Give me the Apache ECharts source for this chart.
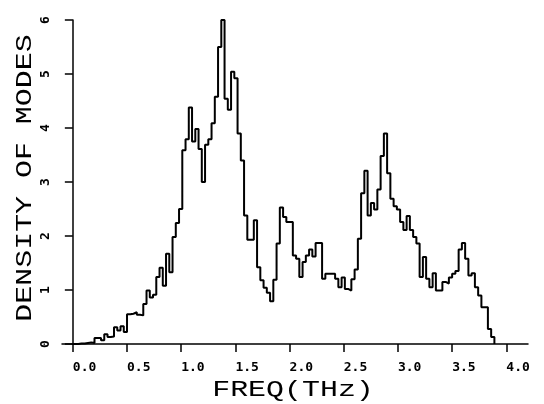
<!DOCTYPE html>
<html>
<head>
<meta charset="utf-8">
<script src="https://cdn.jsdelivr.net/npm/echarts@6/dist/echarts.min.js"></script>
<style>
  html, body { margin: 0; padding: 0; background: #fff; }
  #chart { width: 544px; height: 404px; }
</style>
</head>
<body>
<div id="chart"></div>
<script>
// histogram bins: left edge of first bin and bin width (THz)
const binStart = 0.02
const binWidth = 0.03

// density of modes per bin
const density = [
  0.00, 0.01, 0.01, 0.02, 0.03, 0.02, 0.11, 0.11, 0.07, 0.18,
  0.13, 0.14, 0.31, 0.25, 0.33, 0.22, 0.55, 0.56, 0.59, 0.54,
  0.53, 0.74, 0.99, 0.86, 0.91, 1.24, 1.41, 1.08, 1.67, 1.33,
  1.98, 2.24, 2.50, 3.59, 3.79, 4.38, 3.75, 3.98, 3.61, 3.00,
  3.69, 3.79, 4.09, 4.58, 5.50, 6.00, 4.54, 4.34, 5.04, 4.92,
  3.90, 3.40, 2.38, 1.93, 1.93, 2.29, 1.42, 1.18, 1.04, 0.95,
  0.79, 1.19, 1.86, 2.53, 2.35, 2.26, 2.26, 1.64, 1.58, 1.24,
  1.52, 1.64, 1.75, 1.62, 1.87, 1.87, 1.21, 1.30, 1.30, 1.30,
  1.21, 1.05, 1.23, 1.02, 0.99, 1.20, 1.38, 1.95, 2.79, 3.21,
  2.38, 2.61, 2.49, 2.86, 3.48, 3.90, 3.16, 2.69, 2.55, 2.49,
  2.26, 2.11, 2.37, 2.11, 1.98, 1.86, 1.24, 1.61, 1.21, 1.05,
  1.31, 0.99, 0.99, 1.15, 1.12, 1.23, 1.30, 1.35, 1.75, 1.87,
  1.58, 1.27, 1.31, 1.05, 0.90, 0.68, 0.68, 0.28, 0.13
]

const xTicks = [0, 0.5, 1.0, 1.5, 2.0, 2.5, 3.0, 3.5, 4.0]

// step outline of the histogram
const steps = [[0, 0], [binStart, 0]]
density.forEach((v, i) => {
  steps.push([+(binStart + i * binWidth).toFixed(4), v])
})
const binEnd = +(binStart + density.length * binWidth).toFixed(4)
steps.push([binEnd, density[density.length - 1]], [binEnd, 0])

const font = "'DejaVu Sans Mono', monospace"
const titleFont = "22px 'Liberation Mono', 'DejaVu Sans Mono', monospace"

const chart = echarts.init(document.getElementById('chart'))
chart.setOption({
  backgroundColor: '#fff',
  animation: false,
  grid: {
    left: 62,
    right: 16,
    top: 20,
    bottom: 60,
    outerBoundsMode: 'none'
  },
  xAxis: {
    type: 'value',
    min: -0.1,
    max: 4.2,
    splitLine: { show: false },
    axisLine: { lineStyle: { color: '#000', width: 1.5 } },
    axisTick: {
      customValues: xTicks,
      length: 8,
      lineStyle: { color: '#000', width: 1.5 }
    },
    axisLabel: {
      customValues: xTicks,
      formatter: v => v.toFixed(1),
      align: 'left',
      margin: 17,
      color: '#000',
      fontFamily: font,
      fontWeight: 'bold',
      fontSize: 13
    }
  },
  yAxis: {
    type: 'value',
    min: 0,
    max: 6,
    interval: 1,
    splitLine: { show: false },
    axisLine: { onZero: true, lineStyle: { color: '#000', width: 1.5 } },
    axisTick: { length: 8, lineStyle: { color: '#000', width: 1.5 } },
    axisLabel: {
      rotate: 90,
      margin: 10,
      color: '#000',
      fontFamily: font,
      fontWeight: 'bold',
      fontSize: 13
    }
  },
  graphic: [
    {
      type: 'text',
      x: 25,
      y: 178,
      rotation: Math.PI / 2,
      scaleX: 1.36,
      style: {
        text: 'DENSITY OF MODES',
        font: titleFont,
        fill: '#000',
        textAlign: 'center',
        textVerticalAlign: 'middle'
      }
    },
    {
      type: 'text',
      x: 293,
      y: 390,
      scaleX: 1.36,
      style: {
        text: 'FREQ(THz)',
        font: titleFont,
        fill: '#000',
        textAlign: 'center',
        textVerticalAlign: 'middle'
      }
    }
  ],
  series: [
    {
      type: 'line',
      step: 'end',
      symbol: 'none',
      data: steps,
      lineStyle: { color: '#000', width: 2 }
    }
  ]
})
</script>
</body>
</html>
